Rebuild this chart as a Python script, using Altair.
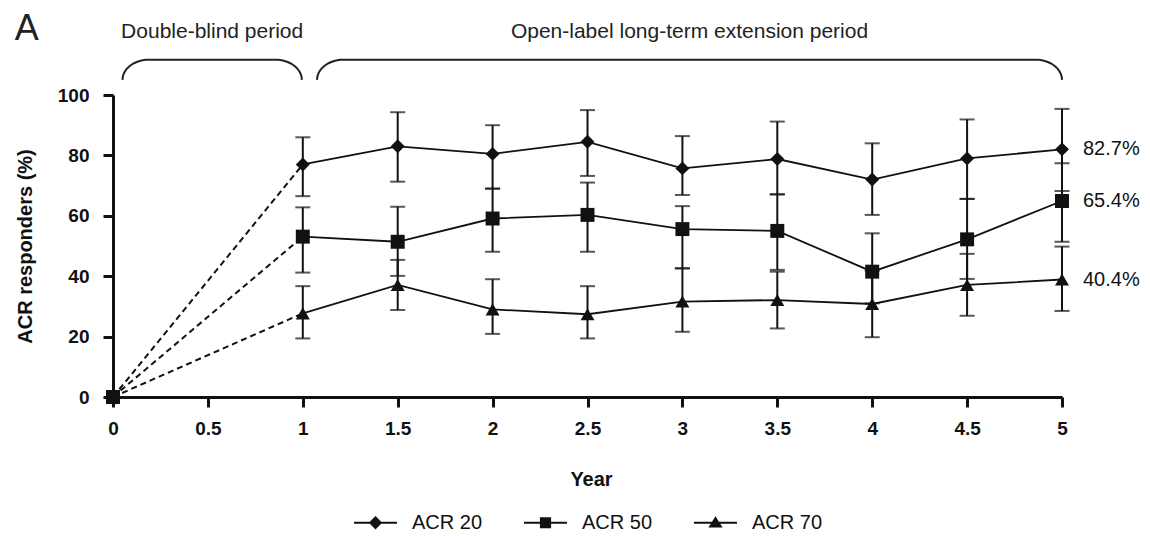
import altair as alt
import pandas as pd
import numpy as np

# ---------------- data ----------------
years = [0, 1, 1.5, 2, 2.5, 3, 3.5, 4, 4.5, 5]
series_names = ["ACR 20", "ACR 50", "ACR 70"]

acr20_mean = [0, 77.0, 83.0, 80.5, 84.5, 75.7, 78.8, 72.0, 79.0, 82.0]
acr20_lo = [None, 66.5, 71.3, 69.0, 73.2, 66.9, 67.1, 60.3, 65.6, 68.2]
acr20_hi = [None, 86.0, 94.3, 90.0, 95.0, 86.4, 91.2, 84.0, 91.9, 95.4]

acr50_mean = [0, 53.1, 51.4, 59.1, 60.3, 55.6, 55.0, 41.5, 52.2, 64.9]
acr50_lo = [None, 41.2, 40.1, 48.1, 48.1, 42.6, 42.1, 31.0, 39.1, 51.4]
acr50_hi = [None, 62.8, 63.0, 69.0, 71.0, 63.2, 67.1, 54.2, 65.6, 77.4]

acr70_mean = [0, 27.7, 37.1, 29.0, 27.4, 31.6, 32.1, 30.8, 37.1, 38.9]
acr70_lo = [None, 19.4, 28.8, 20.9, 19.4, 21.6, 22.7, 19.8, 26.9, 28.5]
acr70_hi = [None, 36.7, 45.4, 39.0, 36.7, 42.6, 41.5, 41.8, 47.4, 49.8]

end_labels = ["82.7%", "65.4%", "40.4%"]

x_ticks = [0, 0.5, 1, 1.5, 2, 2.5, 3, 3.5, 4, 4.5, 5]
y_ticks = [0, 20, 40, 60, 80, 100]

period_labels = ["Double-blind period", "Open-label long-term extension period"]
period_spans = [(0.05, 0.995), (1.075, 5.0)]
panel_label = "A"

# ---------------- tables ----------------
means = [acr20_mean, acr50_mean, acr70_mean]
los = [acr20_lo, acr50_lo, acr70_lo]
his = [acr20_hi, acr50_hi, acr70_hi]

rows = []
for s, m, lo, hi in zip(series_names, means, los, his):
    for y, v, l, h in zip(years, m, lo, hi):
        rows.append({"series": s, "entry": s, "year": y, "value": v, "lo": l, "hi": h})
df = pd.DataFrame(rows)
solid = df[df["year"] >= 1]
dashed = df[df["year"] <= 1]
err = df.dropna(subset=["lo"])
caps = pd.concat([
    err[["series", "year", "lo"]].rename(columns={"lo": "cap"}),
    err[["series", "year", "hi"]].rename(columns={"hi": "cap"}),
])

ends = df[df["year"] == years[-1]].copy()
ends["label"] = end_labels

# braces (decoration derived from the period spans)
brace_rows = []
rx, base, top = 0.14, 105.0, 111.7
t = np.linspace(0, np.pi / 2, 14)
for k, (a, b) in enumerate(period_spans):
    order = 0
    for tt in t:
        brace_rows.append({"b": k, "o": order, "x": a + rx * (1 - np.cos(tt)), "y": base + (top - base) * np.sin(tt)})
        order += 1
    for tt in t[::-1]:
        brace_rows.append({"b": k, "o": order, "x": b - rx * (1 - np.cos(tt)), "y": base + (top - base) * np.sin(tt)})
        order += 1
braces = pd.DataFrame(brace_rows)

period_df = pd.DataFrame({
    "text": period_labels,
    "x": [(a + b) / 2 for a, b in period_spans],
    "y": [121.0, 121.0],
})
panel_df = pd.DataFrame({"text": [panel_label], "x": [-0.455], "y": [122.0]})

INK = "#111111"
FONT = "Liberation Sans"

xs = alt.Scale(domain=[0, 5], nice=False)
ys = alt.Scale(domain=[0, 100], nice=False)

x_enc = alt.X("year:Q", scale=xs, axis=alt.Axis(
    values=x_ticks, format="~g", title="Year", grid=False, labelFlush=False,
    domainColor=INK, domainWidth=3, tickColor=INK, tickWidth=3, tickSize=10,
    labelFont=FONT, labelFontSize=19, labelFontWeight="bold", labelColor=INK, labelPadding=12,
    titleFont=FONT, titleFontSize=20, titleFontWeight="bold", titleColor=INK,
    titleX=478, titleY=82, titleBaseline="middle", titleAlign="center",
))
y_enc = alt.Y("value:Q", scale=ys, axis=alt.Axis(
    values=y_ticks, title="ACR responders (%)", grid=False, labelFlush=False,
    domainColor=INK, domainWidth=3, tickColor=INK, tickWidth=3, tickSize=10,
    labelFont=FONT, labelFontSize=19, labelFontWeight="bold", labelColor=INK, labelPadding=14,
    titleFont=FONT, titleFontSize=20, titleFontWeight="bold", titleColor=INK,
    titleX=-88, titleY=151, titleBaseline="middle", titleAlign="center", titleAngle=-90,
))

dash_layer = alt.Chart(dashed).mark_line(color=INK, strokeWidth=2, strokeDash=[6, 4]).encode(
    x=x_enc, y=y_enc, detail="series:N", order="year:Q")
solid_layer = alt.Chart(solid).mark_line(color=INK, strokeWidth=1.8).encode(
    x="year:Q", y="value:Q", detail="series:N", order="year:Q")
rule_layer = alt.Chart(err).mark_rule(color=INK, strokeWidth=2).encode(
    x="year:Q", y="lo:Q", y2="hi:Q")
cap_layer = alt.Chart(caps).mark_tick(color=INK, orient="horizontal", size=15, thickness=2).encode(
    x="year:Q", y="cap:Q")
point_layer = alt.Chart(df).mark_point(filled=True, color=INK, opacity=1, size=195).encode(
    x="year:Q", y="value:Q",
    shape=alt.Shape("series:N", scale=alt.Scale(domain=series_names, range=["diamond", "square", "triangle-up"]), legend=None))

# legend symbols: a filled bar (the line) plus the filled marker, in a -1..1 box
legend_paths = [
    "M-1,-0.045H1V0.045H-1ZM0,-0.31L0.31,0L0,0.31L-0.31,0Z",
    "M-1,-0.045H1V0.045H-1ZM-0.26,-0.26H0.26V0.26H-0.26Z",
    "M-1,-0.045H1V0.045H-1ZM0,-0.3L0.33,0.22H-0.33Z",
]
legend_layer = alt.Chart(df).transform_filter("datum.year < 0").mark_point(
    filled=True, color=INK, opacity=1, size=1849).encode(
    x="year:Q", y="value:Q",
    shape=alt.Shape("entry:N", scale=alt.Scale(domain=series_names, range=legend_paths),
                    legend=alt.Legend(orient="none", legendX=240, legendY=405, direction="horizontal",
                                      title=None, padding=0, symbolSize=1849,
                                      symbolFillColor=INK, symbolOpacity=1,
                                      labelFont=FONT, labelFontSize=20, labelColor=INK,
                                      labelOffset=14, columnPadding=38)))

end_layer = alt.Chart(ends).mark_text(align="left", baseline="middle", dx=21, font=FONT, fontSize=20, color=INK).encode(
    x="year:Q", y="value:Q", text="label:N")

brace_layer = alt.Chart(braces).mark_line(color="#222222", strokeWidth=2).encode(
    x="x:Q", y="y:Q", detail="b:N", order="o:Q")
period_layer = alt.Chart(period_df).mark_text(align="center", baseline="middle", font=FONT, fontSize=21, color="#222222").encode(
    x="x:Q", y="y:Q", text="text:N")
panel_layer = alt.Chart(panel_df).mark_text(align="center", baseline="middle", font=FONT, fontSize=36, color="#222222").encode(
    x="x:Q", y="y:Q", text="text:N")

chart = alt.layer(
    dash_layer, solid_layer, rule_layer, cap_layer, point_layer, legend_layer,
    end_layer, brace_layer, period_layer, panel_layer,
).resolve_scale(shape="independent").properties(
    width=949, height=302,
    autosize=alt.AutoSizeParams(type="none"),
    padding={"left": 105, "top": 87, "right": 80, "bottom": 135},
    background="white",
).configure_view(strokeWidth=0)

chart.save("out.html", embed_options={"renderer": "svg", "actions": False})
